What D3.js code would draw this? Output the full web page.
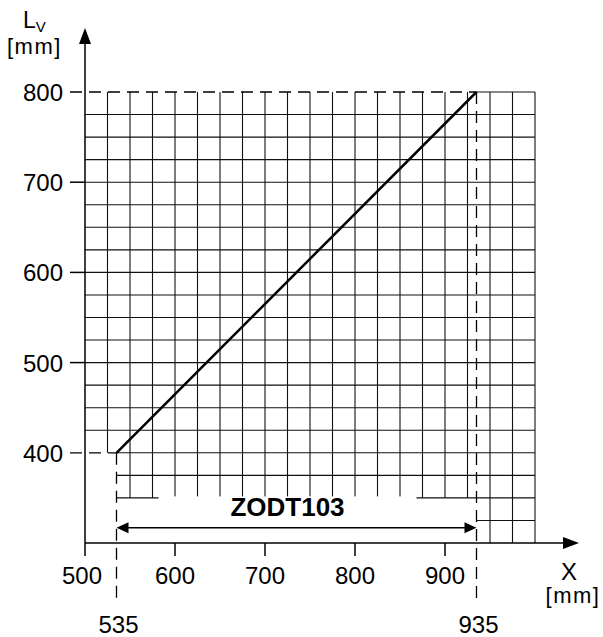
<!DOCTYPE html>
<html>
    <head>
        <style>
            body { margin: 0; background: #fff; }
            svg text {
                font-family: "Liberation Sans", Arial, sans-serif;
                fill: #000;
            }
            .grid line { stroke: #111; stroke-width: 1.1; }
            .dash { stroke: #000; stroke-width: 1.3; stroke-dasharray: 12,7; fill: none; }
            .axis { stroke: #000; stroke-width: 1.5; }
        </style>
        <script src="https://d3js.org/d3.v7.min.js"></script>
    </head>
    <body>
        <svg width="603" height="637"></svg>
        <script>
            // values
            var lineX = [535, 935];          // X [mm]
            var lineLv = [400, 800];         // Lv [mm]
            var xTicks = [500, 600, 700, 800, 900];
            var yTicks = [400, 500, 600, 700, 800];
            var markValues = [535, 935];
            var modelName = "ZODT103";
            var gridStep = 25;
            var gridMaxX = 1000;
            var arrowLevel = 317;            // height of the double arrow
            var nameAt = 725;                // where the model name sits

            var svg = d3.select("svg");

            var x = d3.scaleLinear().domain([500, 1000]).range([85, 535]);
            var y = d3.scaleLinear().domain([300, 800]).range([543, 92]);

            var x0 = x(500), y0 = y(300);

            // grid
            var grid = svg.append("g").attr("class", "grid");

            d3.range(500 + gridStep, gridMaxX + 1, gridStep).forEach(function(gx) {
                var bottom = gx < lineX[0] ? lineLv[0] : (gx < lineX[1] ? 350 : 300);
                grid.append("line")
                    .attr("x1", x(gx)).attr("x2", x(gx))
                    .attr("y1", y(bottom)).attr("y2", y(lineLv[1]));
            });

            d3.range(300 + gridStep, lineLv[1], gridStep).forEach(function(gy) {
                var left = gy > lineLv[0] ? 500 : (gy >= 350 ? lineX[0] : lineX[1]);
                grid.append("line")
                    .attr("x1", x(left)).attr("x2", x(gridMaxX))
                    .attr("y1", y(gy)).attr("y2", y(gy));
            });
            // top edge right of the dashed line
            grid.append("line")
                .attr("x1", x(lineX[1])).attr("x2", x(gridMaxX))
                .attr("y1", y(lineLv[1])).attr("y2", y(lineLv[1]));

            // white box behind the model name
            var nameX = x(nameAt);
            svg.append("rect")
               .attr("x", nameX - 129).attr("y", y(350) - 1.5)
               .attr("width", 258).attr("height", 29)
               .attr("fill", "#fff");

            // dashed reference lines
            svg.append("line").attr("class", "dash")
               .attr("x1", 70).attr("x2", x(lineX[1]))
               .attr("y1", y(lineLv[1])).attr("y2", y(lineLv[1]));
            svg.append("line").attr("class", "dash")
               .attr("x1", 70).attr("x2", x(lineX[0]))
               .attr("y1", y(lineLv[0])).attr("y2", y(lineLv[0]));
            svg.append("line").attr("class", "dash")
               .attr("x1", x(lineX[0])).attr("x2", x(lineX[0]))
               .attr("y1", y(lineLv[0])).attr("y2", 602);
            svg.append("line").attr("class", "dash")
               .attr("x1", x(lineX[1])).attr("x2", x(lineX[1]))
               .attr("y1", y(lineLv[1])).attr("y2", 602);

            // axes
            svg.append("line").attr("class", "axis")
               .attr("x1", x0).attr("x2", x0).attr("y1", 556).attr("y2", 42);
            svg.append("path")
               .attr("d", "M" + x0 + ",28 L" + (x0 - 6) + ",44 L" + (x0 + 6) + ",44 Z");
            svg.append("line").attr("class", "axis")
               .attr("x1", x0).attr("x2", 565).attr("y1", y0).attr("y2", y0);
            svg.append("path")
               .attr("d", "M579," + y0 + " L563," + (y0 - 6) + " L563," + (y0 + 6) + " Z");

            yTicks.forEach(function(t) {
                if (t != lineLv[0] && t != lineLv[1]) {
                    svg.append("line").attr("class", "axis")
                       .attr("x1", 70).attr("x2", x0).attr("y1", y(t)).attr("y2", y(t));
                }
                svg.append("text")
                   .attr("x", 63).attr("y", y(t) + 9)
                   .attr("text-anchor", "end")
                   .style("font-size", "24px")
                   .text(t);
            });

            xTicks.forEach(function(t) {
                if (t != 500) {
                    svg.append("line").attr("class", "axis")
                       .attr("x1", x(t)).attr("x2", x(t)).attr("y1", y0).attr("y2", y0 + 13);
                }
                svg.append("text")
                   .attr("x", x(t) - (t == 500 ? 3 : 0)).attr("y", 584)
                   .attr("text-anchor", "middle")
                   .style("font-size", "24px")
                   .text(t);
            });

            markValues.forEach(function(m) {
                svg.append("text")
                   .attr("x", x(m) + 2).attr("y", 633)
                   .attr("text-anchor", "middle")
                   .style("font-size", "24px")
                   .text(m);
            });

            // the Lv / X relation
            var line = d3.line()
                         .x(function(d, i) { return x(lineX[i]); })
                         .y(function(d) { return y(d); });
            svg.append("path")
               .attr("d", line(lineLv))
               .attr("fill", "none")
               .attr("stroke", "#000")
               .attr("stroke-width", 2.5);

            // double arrow with the model name
            var ay = y(arrowLevel), ax1 = x(lineX[0]), ax2 = x(lineX[1]);
            svg.append("line").attr("stroke", "#000").attr("stroke-width", 1.5)
               .attr("x1", ax1 + 10).attr("x2", ax2 - 10).attr("y1", ay).attr("y2", ay);
            svg.append("path")
               .attr("d", "M" + ax1 + "," + ay + " L" + (ax1 + 12) + "," + (ay - 5.5) +
                          " L" + (ax1 + 12) + "," + (ay + 5.5) + " Z");
            svg.append("path")
               .attr("d", "M" + ax2 + "," + ay + " L" + (ax2 - 12) + "," + (ay - 5.5) +
                          " L" + (ax2 - 12) + "," + (ay + 5.5) + " Z");
            svg.append("text")
               .attr("x", nameX).attr("y", 516)
               .attr("text-anchor", "middle")
               .style("font-size", "26px").style("font-weight", "bold")
               .text(modelName);

            // axis titles
            var ly = svg.append("text").attr("x", 23).attr("y", 28).style("font-size", "23px");
            ly.append("tspan").text("L");
            ly.append("tspan").attr("dy", 4).style("font-size", "15px").text("V");
            svg.append("text").attr("x", 7).attr("y", 54).style("font-size", "22px")
               .style("letter-spacing", "1.5px").text("[mm]");

            svg.append("text").attr("x", 569).attr("y", 580)
               .attr("text-anchor", "middle").style("font-size", "24px").text("X");
            svg.append("text").attr("x", 573).attr("y", 603)
               .attr("text-anchor", "middle").style("font-size", "22px")
               .style("letter-spacing", "1.5px").text("[mm]");
        </script>
    </body>
</html>
